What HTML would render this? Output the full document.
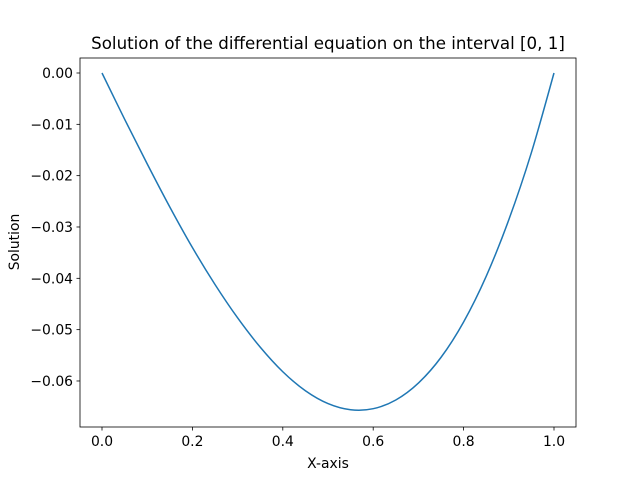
<!DOCTYPE html>
<html><head><meta charset="utf-8"><style>
body{margin:0;background:#fff;}
text{font-family:"DejaVu Sans","Liberation Sans",sans-serif;fill:#000;}
</style></head><body>
<svg id="chart" width="640" height="480" viewBox="0 0 640 480">
<rect width="640" height="480" fill="#fff"/>
<text x="328" y="49" font-size="16.67" text-anchor="middle">Solution of the differential equation on the interval [0, 1]</text>
<g id="plot"></g>
<rect x="80" y="58" width="496" height="369" fill="none" stroke="#000" stroke-width="0.8"/>
<text x="328" y="468" font-size="13.9" text-anchor="middle">X-axis</text>
<text x="19" y="242" font-size="13.9" text-anchor="middle" transform="rotate(-90 19 242)">Solution</text>
</svg>
<script>
const xValues=[0,0.05,0.1,0.15,0.2,0.25,0.3,0.35,0.4,0.45,0.5,0.55,0.6,0.65,0.7,0.75,0.8,0.85,0.9,0.95,1.0];
const yValues=[0,-0.0090,-0.0177,-0.0261,-0.0340,-0.0412,-0.0477,-0.0534,-0.0582,-0.0619,-0.0644,-0.0656,-0.0654,-0.0637,-0.0604,-0.0554,-0.0485,-0.0396,-0.0286,-0.0155,0];
const xTicks=[0,0.2,0.4,0.6,0.8,1.0];
const xTickLabels=["0.0","0.2","0.4","0.6","0.8","1.0"];
const yTicks=[0,-0.01,-0.02,-0.03,-0.04,-0.05,-0.06];
const yTickLabels=["0.00","−0.01","−0.02","−0.03","−0.04","−0.05","−0.06"];
const NS="http://www.w3.org/2000/svg";
function sx(v){return 102+v*452;}
function sy(v){return 73-v*5133;}
const g=document.getElementById('plot');
function mk(t,a){const e=document.createElementNS(NS,t);for(const k in a)e.setAttribute(k,a[k]);g.appendChild(e);return e;}
xTicks.forEach((t,i)=>{
 const l=mk('line',{x1:sx(t),x2:sx(t),y1:427,y2:430.5,stroke:'#000','stroke-width':0.8});
 
 
 const tx=mk('text',{x:sx(t),y:446,'font-size':13.9,'text-anchor':'middle'});
 tx.textContent=xTickLabels[i];
 
 
});
yTicks.forEach((t,i)=>{
 const l=mk('line',{x1:76.5,x2:80,y1:sy(t),y2:sy(t),stroke:'#000','stroke-width':0.8});
 
 
 const tx=mk('text',{x:73,y:sy(t)+5,'font-size':13.9,'text-anchor':'end'});
 tx.textContent=yTickLabels[i];
 
 
});
const P=xValues.map((x,i)=>[sx(x),sy(yValues[i])]);
let d='M'+P[0][0]+','+P[0][1];
for(let i=0;i<P.length-1;i++){
 const p0=P[Math.max(i-1,0)],p1=P[i],p2=P[i+1],p3=P[Math.min(i+2,P.length-1)];
 d+=' C'+(p1[0]+(p2[0]-p0[0])/6)+','+(p1[1]+(p2[1]-p0[1])/6)+' '+(p2[0]-(p3[0]-p1[0])/6)+','+(p2[1]-(p3[1]-p1[1])/6)+' '+p2[0]+','+p2[1];
}
const path=mk('path',{d:d,fill:'none',stroke:'#1f77b4','stroke-width':1.5});


</script>
</body></html>
